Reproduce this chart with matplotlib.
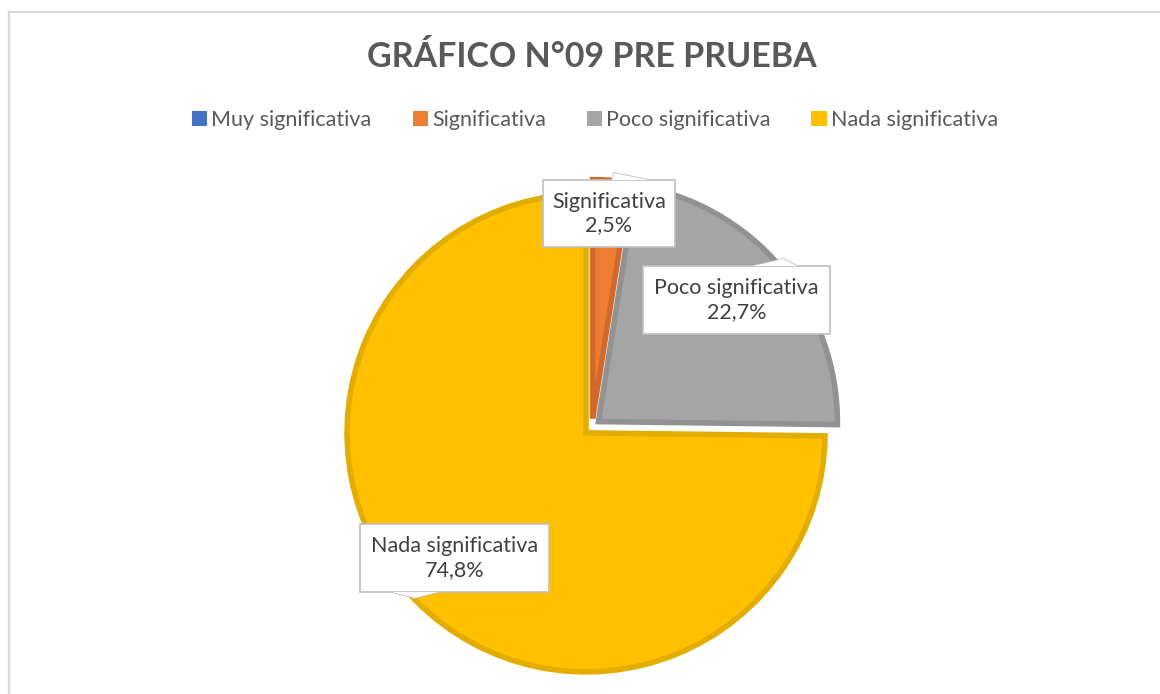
import matplotlib
matplotlib.use("Agg")
import matplotlib.pyplot as plt
from matplotlib.patches import Polygon, Rectangle
from matplotlib.lines import Line2D

# ---- data ----
categories = ["Muy significativa", "Significativa", "Poco significativa", "Nada significativa"]
values = [0.0, 2.5, 22.7, 74.8]
value_labels = ["0,0%", "2,5%", "22,7%", "74,8%"]
title = "GRÁFICO N°09 PRE PRUEBA"

# ---- style ----
fills = ["#4472C4", "#ED7D31", "#A5A5A5", "#FFC000"]
edges = ["#3A62A8", "#D2692A", "#929292", "#E3AD00"]
W, H = 1160, 694
fig = plt.figure(figsize=(W / 100, H / 100), dpi=100)
fig.patch.set_facecolor("white")
plt.rcParams["font.family"] = ["Lato", "DejaVu Sans"]

# chart border (left and top visible)
fig.add_artist(Line2D([9 / W, 9 / W], [0, 1 - 11.5 / H], transform=fig.transFigure,
                      color="#D9D9D9", lw=1.6))
fig.add_artist(Line2D([9 / W, 1], [1 - 11.5 / H, 1 - 11.5 / H], transform=fig.transFigure,
                      color="#D9D9D9", lw=1.6))

# pie axes: centre and radius in px
cx, cy, R = 592, 427, 239
lim = 1.1
size = 2 * lim * R
ax = fig.add_axes([(cx - size / 2) / W, (H - cy - size / 2) / H, size / W, size / H])

wedges, _ = ax.pie(values, colors=fills, startangle=90, counterclock=False,
                   explode=[0.035] * len(values), radius=1.0,
                   wedgeprops=dict(linewidth=4.0, joinstyle="miter"))
for w, e, v in zip(wedges, edges, values):
    w.set_edgecolor(e)
    if v == 0:
        w.set_linewidth(0)
ax.set_xlim(-lim, lim)
ax.set_ylim(-lim, lim)
ax.set_aspect("equal")
ax.axis("off")

def px2d(px, py):
    return ((px - cx) / R, (cy - py) / R)

# callout boxes: (category index, box px left, right, top, bottom, tail base, apex)
callouts = [
    (1, 543, 675, 180, 247, ("top", 612, 648), (614, 173)),
    (2, 643, 830, 266, 334, ("top", 753, 797), (783, 259)),
    (3, 360, 549, 524, 592, ("bottom", 392, 438), (415, 598)),
]
for idx, l, r, t, b, tail, apex in callouts:
    x0, y0 = px2d(l, b)
    x1, y1 = px2d(r, t)
    side, tx1, tx2 = tail
    ty = t if side == "top" else b
    tail_pts = [px2d(tx1, ty), px2d(apex[0], apex[1]), px2d(tx2, ty)]
    ax.add_patch(Polygon(tail_pts, closed=True, facecolor="white", edgecolor="#BFBFBF",
                         lw=1.2, zorder=5))
    ax.add_patch(Rectangle((x0, y0), x1 - x0, y1 - y0, facecolor="white",
                           edgecolor="#BFBFBF", lw=1.2, zorder=6))
    ax.add_patch(Polygon(tail_pts, closed=True, facecolor="white", edgecolor="none",
                         zorder=7))
    ax.text((x0 + x1) / 2, (y0 + y1) / 2, f"{categories[idx]}\n{value_labels[idx]}",
            ha="center", va="center", fontsize=15.5, color="#404040", zorder=8,
            linespacing=1.25)

# title
fig.text(592 / W, 1 - 57 / H, title, ha="center", va="center", fontsize=24.5,
         fontweight="bold", color="#595959")

# legend
handles = [Rectangle((0, 0), 1, 1, facecolor=c, edgecolor="none") for c in fills]
fig.legend(handles, categories, loc="center", bbox_to_anchor=(595 / W, 1 - 120 / H),
           ncol=4, frameon=False, fontsize=15.5, labelcolor="#595959",
           handlelength=0.7, handleheight=0.7, handletextpad=0.2, columnspacing=1.9)

fig.savefig("out.png", dpi=100, facecolor="white")
